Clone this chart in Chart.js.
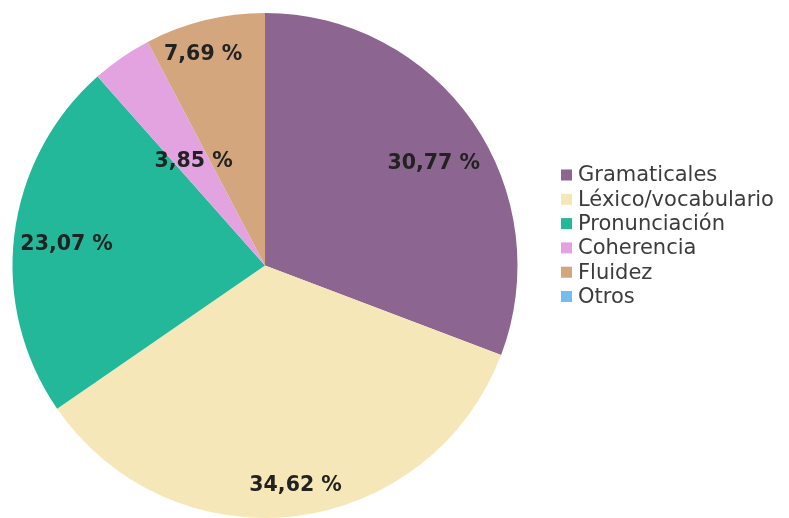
<!DOCTYPE html>
<html>
<head>
<meta charset="utf-8">
<script src="https://cdn.jsdelivr.net/npm/chart.js@4/dist/chart.umd.min.js"></script>
<style>
html,body{margin:0;padding:0;background:#fff;overflow:hidden;}
#wrap{width:789px;height:518px;position:relative;}
</style>
</head>
<body>
<div id="wrap"><canvas id="c" width="789" height="518"></canvas></div>
<script>
const categories = ["Gramaticales", "Léxico/vocabulario", "Pronunciación", "Coherencia", "Fluidez", "Otros"];
const values = [30.77, 34.62, 23.07, 3.85, 7.69, 0];
const valueLabels = ["30,77 %", "34,62 %", "23,07 %", "3,85 %", "7,69 %", ""];
const colors = ["#8C6590", "#F6E7B9", "#23B899", "#E2A3E0", "#D3A67D", "#74BDF0"];

// label placement: fraction of radius and angular offset (degrees) from the slice middle
const labelRadius = [0.78, 0.88, 0.79, 0.50, 0.87, 0.6];
const labelAngleOffset = [3.6, -1.0, -0.9, 0.2, -2.5, 0];

const labelPlugin = {
  id: 'sliceLabels',
  afterDatasetsDraw(chart) {
    const ctx = chart.ctx;
    const meta = chart.getDatasetMeta(0);
    ctx.save();
    ctx.font = 'bold 20.5px "DejaVu Sans"';
    ctx.fillStyle = '#222222';
    ctx.textAlign = 'center';
    ctx.textBaseline = 'middle';
    meta.data.forEach((arc, i) => {
      if (!valueLabels[i]) return;
      const p = arc.getProps(['x','y','startAngle','endAngle','outerRadius'], true);
      const mid = (p.startAngle + p.endAngle) / 2 + labelAngleOffset[i] * Math.PI / 180;
      const r = p.outerRadius * labelRadius[i];
      ctx.fillText(valueLabels[i], p.x + Math.cos(mid) * r, p.y + Math.sin(mid) * r);
    });
    ctx.restore();
  }
};

const legendPlugin = {
  id: 'sideLegend',
  afterDraw(chart) {
    const ctx = chart.ctx;
    const x0 = 561, y0 = 175, step = 24.3, box = 11;
    ctx.save();
    ctx.font = '21px "DejaVu Sans"';
    ctx.textBaseline = 'middle';
    ctx.textAlign = 'left';
    chart.data.labels.forEach((lab, i) => {
      const y = y0 + i * step;
      ctx.fillStyle = chart.data.datasets[0].backgroundColor[i];
      ctx.fillRect(x0, y - box / 2, box, box);
      ctx.fillStyle = '#3c3c3c';
      ctx.fillText(lab, x0 + 17, y + 1);
    });
    ctx.restore();
  }
};

new Chart(document.getElementById('c'), {
  type: 'pie',
  data: {
    labels: categories,
    datasets: [{
      data: values,
      backgroundColor: colors,
      borderWidth: 0
    }]
  },
  options: {
    responsive: false,
    animation: false,
    layout: { padding: { left: 11, right: 270, top: 13, bottom: -3 } },
    plugins: {
      legend: { display: false },
      tooltip: { enabled: false }
    }
  },
  plugins: [labelPlugin, legendPlugin]
});
</script>
</body>
</html>
